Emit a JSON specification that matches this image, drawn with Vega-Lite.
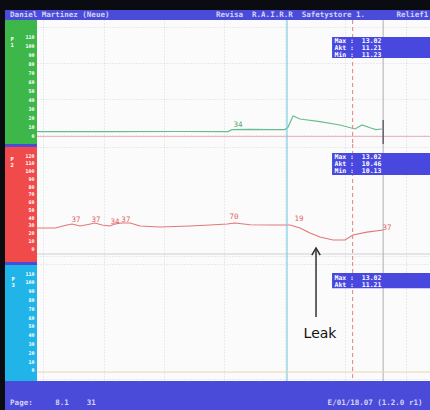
{
  "$schema": "https://vega.github.io/schema/vega-lite/v6.json",
  "background": "#0b0b12",
  "padding": {"left": 5, "top": 10, "right": 0, "bottom": 0},
  "columns": 2,
  "spacing": {"row": 0, "column": 0},
  "align": "each",
  "bounds": "flush",
  "config": {"view": {"stroke": null}, "font": "DejaVu Sans Mono"},
  "datasets": {
    "hdr": [
      {"side": "L", "txt": "Daniel Martinez (Neue)"},
      {"side": "R", "txt": "Revisa\u00a0\u00a0R.A.I.R.R\u00a0\u00a0Safetystore\u00a01.\u00a0\u00a0\u00a0\u00a0\u00a0\u00a0\u00a0Relief1"}
    ],
    "ftr": [
      {"side": "L", "txt": "Page:\u00a0\u00a0\u00a0\u00a0\u00a08.1\u00a0\u00a0\u00a0\u00a031"},
      {"side": "R", "txt": "E/01/18.07\u00a0(1.2.0\u00a0r1)"}
    ],
    "green": [
      {"t": -2, "v": 3.7}, {"t": 18.8, "v": 3.7}, {"t": 45.3, "v": 3.9}, {"t": 61.2, "v": 3.8},
      {"t": 62.5, "v": 6.0}, {"t": 68.5, "v": 6.3}, {"t": 75.1, "v": 6.0}, {"t": 80.0, "v": 6.0},
      {"t": 81.0, "v": 8.5}, {"t": 82.7, "v": 21.1}, {"t": 85.0, "v": 17.8}, {"t": 91.6, "v": 14.8},
      {"t": 98.2, "v": 11.1}, {"t": 103.2, "v": 6.7}, {"t": 105.5, "v": 11.1}, {"t": 108.2, "v": 8.0},
      {"t": 110.1, "v": 6.0}, {"t": 112.1, "v": 6.7}
    ],
    "red": [
      {"t": -2, "v": 25.8}, {"t": 4.0, "v": 25.8}, {"t": 7.9, "v": 29.7}, {"t": 9.6, "v": 31.0},
      {"t": 12.2, "v": 28.4}, {"t": 14.9, "v": 30.5}, {"t": 17.2, "v": 32.3}, {"t": 19.5, "v": 29.7},
      {"t": 22.1, "v": 28.4}, {"t": 23.8, "v": 31.0}, {"t": 26.1, "v": 32.3}, {"t": 28.8, "v": 32.3},
      {"t": 32.1, "v": 28.4}, {"t": 38.7, "v": 27.1}, {"t": 48.6, "v": 28.4}, {"t": 55.2, "v": 29.7},
      {"t": 60.9, "v": 31.0}, {"t": 63.5, "v": 32.3}, {"t": 68.5, "v": 30.0}, {"t": 75.1, "v": 29.7},
      {"t": 81.7, "v": 29.7}, {"t": 85.0, "v": 25.8}, {"t": 88.3, "v": 19.4}, {"t": 91.6, "v": 14.2},
      {"t": 95.9, "v": 10.3}, {"t": 99.9, "v": 10.3}, {"t": 102.5, "v": 16.8}, {"t": 107.1, "v": 20.6},
      {"t": 112.5, "v": 23.2}
    ],
    "glabels": [{"t": 64.5, "v": 11, "l": "34"}],
    "rlabels": [
      {"t": 10.9, "v": 36.8, "l": "37"}, {"t": 17.5, "v": 36.8, "l": "37"}, {"t": 23.8, "v": 34.0, "l": "34"},
      {"t": 27.4, "v": 36.8, "l": "37"}, {"t": 63.2, "v": 40.0, "l": "70"}, {"t": 84.7, "v": 37.4, "l": "19"},
      {"t": 113.8, "v": 25.8, "l": "37"}
    ],
    "cursors": [
      {"t": 80.7, "c": "A"}, {"t": 102.4, "c": "B"}, {"t": 112.5, "c": "C"}
    ],
    "boxes": [
      {"p": "g", "txt": "Max\u00a0:\u00a0\u00a013.02|Akt\u00a0:\u00a0\u00a011.21|Min\u00a0:\u00a0\u00a011.23"},
      {"p": "r", "txt": "Max\u00a0:\u00a0\u00a013.02|Akt\u00a0:\u00a0\u00a010.46|Min\u00a0:\u00a0\u00a010.13"},
      {"p": "c", "txt": "Max\u00a0:\u00a0\u00a013.02|Akt\u00a0:\u00a0\u00a011.21"}
    ],
    "leak": [{"t": 90.3, "txt": "Leak"}]
  },
  "concat": [
    {
      "width": 32, "height": 10, "view": {"fill": "#4b4bd9"},
      "data": {"values": [{}]}, "mark": {"type": "point", "opacity": 0}
    },
    {
      "width": 393, "height": 10, "view": {"fill": "#4b4bd9"},
      "data": {"name": "hdr"},
      "layer": [
        {
          "transform": [{"filter": "datum.side == 'L'"}],
          "mark": {"type": "text", "align": "left", "baseline": "middle", "color": "#d4d4f4", "fontSize": 7.5, "fontWeight": "bold"},
          "encoding": {
            "x": {"datum": -10.9, "type": "quantitative", "scale": {"domain": [-2, 128], "nice": false, "zero": false}, "axis": null},
            "y": {"datum": 0.5, "type": "quantitative", "scale": {"domain": [0, 1]}, "axis": null},
            "text": {"field": "txt"}
          }
        },
        {
          "transform": [{"filter": "datum.side == 'R'"}],
          "mark": {"type": "text", "align": "right", "baseline": "middle", "color": "#d4d4f4", "fontSize": 7.5, "fontWeight": "bold"},
          "encoding": {
            "x": {"datum": 127.4, "type": "quantitative"},
            "y": {"datum": 0.5, "type": "quantitative"},
            "text": {"field": "txt"}
          }
        }
      ]
    },
    {
      "width": 32, "height": 124, "view": {"fill": "#3db64a"},
      "data": {"values": [{}]},
      "mark": {"type": "point", "opacity": 0},
      "encoding": {
        "y": {"datum": 0, "type": "quantitative", "scale": {"domain": [-10, 127.8], "nice": false, "zero": false},
          "axis": {"orient": "left", "offset": -30, "domain": false, "ticks": false, "grid": false, "labelColor": "#ffffff", "labelFontSize": 5, "labelFontWeight": "bold", "labelPadding": 1, "labelOverlap": false, "labelFlush": false, "values": [0, 10, 20, 30, 40, 50, 60, 70, 80, 90, 100, 110], "title": ["P", "1"], "titleColor": "#ffffff", "titleFontSize": 5.5, "titleFontWeight": "bold", "titleAngle": 0, "titleX": -25, "titleY": 16, "titleAlign": "left", "titleBaseline": "top", "titleLineHeight": 6.5}}
      }
    },
    {
      "width": 393, "height": 124, "view": {"fill": "#fbfbfb"},
      "layer": [
        {
          "data": {"name": "green"},
          "mark": {"type": "line", "color": "#66bd90", "strokeWidth": 1.2},
          "encoding": {
            "x": {"field": "t", "type": "quantitative", "scale": {"domain": [-2, 128], "nice": false, "zero": false},
              "axis": {"grid": true, "labels": false, "ticks": false, "domain": false, "title": null, "values": [0, 10, 20, 30, 40, 50, 60, 70, 80, 90, 100, 110, 120], "gridColor": "#b4b8c8", "gridDash": [1, 2], "gridOpacity": 0.5}},
            "y": {"field": "v", "type": "quantitative", "scale": {"domain": [-10, 127.8], "nice": false, "zero": false},
              "axis": {"grid": true, "labels": false, "ticks": false, "domain": false, "title": null, "values": [0, 10, 20, 30, 40, 50, 60, 70, 80, 90, 100, 110, 120], "gridColor": "#b4b8c8", "gridDash": [1, 2], "gridOpacity": 0.5}}
          }
        },
        {
          "data": {"values": [{}]},
          "mark": {"type": "rule", "color": "#f0b4c0", "strokeWidth": 1},
          "encoding": {"y": {"datum": -1.7, "type": "quantitative"}}
        },
        {
          "data": {"name": "cursors"},
          "mark": {"type": "rule", "strokeWidth": 1.1},
          "encoding": {
            "x": {"field": "t", "type": "quantitative"},
            "color": {"field": "c", "type": "nominal", "scale": {"domain": ["A", "B", "C"], "range": ["#74cbe0", "#e68a8a", "#b4b4bc"]}, "legend": null},
            "strokeDash": {"field": "c", "type": "nominal", "scale": {"domain": ["A", "B", "C"], "range": [[1, 0], [4, 3], [1, 0]]}, "legend": null}
          }
        },
        {
          "data": {"name": "cursors"},
          "transform": [{"filter": "datum.c == 'C'"}],
          "mark": {"type": "rule", "color": "#4a4a52", "strokeWidth": 1.2},
          "encoding": {
            "x": {"field": "t", "type": "quantitative"},
            "y": {"datum": 16.7, "type": "quantitative"},
            "y2": {"datum": -10}
          }
        },
        {
          "data": {"name": "glabels"},
          "mark": {"type": "text", "color": "#4fa872", "fontSize": 7.5, "baseline": "middle"},
          "encoding": {
            "x": {"field": "t", "type": "quantitative"},
            "y": {"field": "v", "type": "quantitative"},
            "text": {"field": "l"}
          }
        },
        {
          "data": {"name": "boxes"},
          "transform": [{"filter": "datum.p == 'g'"}],
          "layer": [
            {
              "mark": {"type": "rect", "color": "#4848de"},
              "encoding": {
                "x": {"datum": 95.6, "type": "quantitative"}, "x2": {"datum": 128},
                "y": {"datum": 108.9, "type": "quantitative"}, "y2": {"datum": 85.6}
              }
            },
            {
              "mark": {"type": "text", "align": "left", "baseline": "top", "color": "#ffffff", "fontSize": 6.5, "fontWeight": "bold", "lineHeight": 7, "lineBreak": "|"},
              "encoding": {
                "x": {"datum": 96.4, "type": "quantitative"},
                "y": {"datum": 107.6, "type": "quantitative"},
                "text": {"field": "txt"}
              }
            }
          ]
        }
      ]
    },
    {
      "width": 32, "height": 118, "view": {"fill": "#f04a4a"},
      "data": {"values": [{}]},
      "mark": {"type": "rect", "color": "#4b4bd9"},
      "encoding": {
        "y": {"datum": 134.3, "type": "quantitative", "scale": {"domain": [-18, 134.3], "nice": false, "zero": false},
          "axis": {"orient": "left", "offset": -30, "domain": false, "ticks": false, "grid": false, "labelColor": "#ffffff", "labelFontSize": 5, "labelFontWeight": "bold", "labelPadding": 1, "labelOverlap": false, "labelFlush": false, "values": [0, 10, 20, 30, 40, 50, 60, 70, 80, 90, 100, 110, 120], "title": ["P", "2"], "titleColor": "#ffffff", "titleFontSize": 5.5, "titleFontWeight": "bold", "titleAngle": 0, "titleX": -25, "titleY": 12, "titleAlign": "left", "titleBaseline": "top", "titleLineHeight": 6.5}},
        "y2": {"datum": 130.6}
      }
    },
    {
      "width": 393, "height": 118, "view": {"fill": "#fbfbfb"},
      "layer": [
        {
          "data": {"name": "red"},
          "mark": {"type": "line", "color": "#e57676", "strokeWidth": 1.1},
          "encoding": {
            "x": {"field": "t", "type": "quantitative", "scale": {"domain": [-2, 128], "nice": false, "zero": false},
              "axis": {"grid": true, "labels": false, "ticks": false, "domain": false, "title": null, "values": [0, 10, 20, 30, 40, 50, 60, 70, 80, 90, 100, 110, 120], "gridColor": "#b4b8c8", "gridDash": [1, 2], "gridOpacity": 0.5}},
            "y": {"field": "v", "type": "quantitative", "scale": {"domain": [-18, 134.3], "nice": false, "zero": false},
              "axis": {"grid": true, "labels": false, "ticks": false, "domain": false, "title": null, "values": [-10, 0, 10, 20, 30, 40, 50, 60, 70, 80, 90, 100, 110, 120, 130], "gridColor": "#b4b8c8", "gridDash": [1, 2], "gridOpacity": 0.5}}
          }
        },
        {
          "data": {"values": [{}]},
          "mark": {"type": "rule", "color": "#cfcfd4", "strokeWidth": 1},
          "encoding": {"y": {"datum": -7.7, "type": "quantitative"}}
        },
        {
          "data": {"name": "cursors"},
          "mark": {"type": "rule", "strokeWidth": 1.1},
          "encoding": {
            "x": {"field": "t", "type": "quantitative"},
            "color": {"field": "c", "type": "nominal", "scale": {"domain": ["A", "B", "C"], "range": ["#74cbe0", "#e68a8a", "#a8a8b0"]}, "legend": null},
            "strokeDash": {"field": "c", "type": "nominal", "scale": {"domain": ["A", "B", "C"], "range": [[1, 0], [4, 3], [1, 0]]}, "legend": null}
          }
        },
        {
          "data": {"name": "rlabels"},
          "mark": {"type": "text", "color": "#e06464", "fontSize": 7.5, "baseline": "middle"},
          "encoding": {
            "x": {"field": "t", "type": "quantitative"},
            "y": {"field": "v", "type": "quantitative"},
            "text": {"field": "l"}
          }
        },
        {
          "data": {"name": "leak"},
          "layer": [
            {
              "mark": {"type": "rule", "color": "#333333", "strokeWidth": 1.5},
              "encoding": {
                "x": {"field": "t", "type": "quantitative"},
                "y": {"datum": 0, "type": "quantitative"},
                "y2": {"datum": -18}
              }
            },
            {
              "mark": {"type": "point", "shape": "M-0.6,1L0,0L0.6,1", "filled": false, "color": "#333333", "strokeWidth": 1.5, "size": 196, "opacity": 1},
              "encoding": {
                "x": {"field": "t", "type": "quantitative"},
                "y": {"datum": 0, "type": "quantitative"}
              }
            }
          ]
        },
        {
          "data": {"name": "boxes"},
          "transform": [{"filter": "datum.p == 'r'"}],
          "layer": [
            {
              "mark": {"type": "rect", "color": "#4848de"},
              "encoding": {
                "x": {"datum": 95.6, "type": "quantitative"}, "x2": {"datum": 128},
                "y": {"datum": 122.6, "type": "quantitative"}, "y2": {"datum": 94.2}
              }
            },
            {
              "mark": {"type": "text", "align": "left", "baseline": "top", "color": "#ffffff", "fontSize": 6.5, "fontWeight": "bold", "lineHeight": 7, "lineBreak": "|"},
              "encoding": {
                "x": {"datum": 96.4, "type": "quantitative"},
                "y": {"datum": 120.8, "type": "quantitative"},
                "text": {"field": "txt"}
              }
            }
          ]
        }
      ]
    },
    {
      "width": 32, "height": 119, "view": {"fill": "#20b4e8"},
      "data": {"values": [{}]},
      "mark": {"type": "rect", "color": "#4b4bd9"},
      "encoding": {
        "y": {"datum": 122.7, "type": "quantitative", "scale": {"domain": [-12.5, 122.7], "nice": false, "zero": false},
          "axis": {"orient": "left", "offset": -30, "domain": false, "ticks": false, "grid": false, "labelColor": "#ffffff", "labelFontSize": 5, "labelFontWeight": "bold", "labelPadding": 1, "labelOverlap": false, "labelFlush": false, "values": [0, 10, 20, 30, 40, 50, 60, 70, 80, 90, 100, 110], "title": ["P", "3"], "titleColor": "#ffffff", "titleFontSize": 5.5, "titleFontWeight": "bold", "titleAngle": 0, "titleX": -24, "titleY": 14, "titleAlign": "left", "titleBaseline": "top", "titleLineHeight": 6.5}},
        "y2": {"datum": 119.3}
      }
    },
    {
      "width": 393, "height": 119, "view": {"fill": "#fbfbfb"},
      "layer": [
        {
          "data": {"name": "cursors"},
          "mark": {"type": "rule", "strokeWidth": 1.1},
          "encoding": {
            "x": {"field": "t", "type": "quantitative", "scale": {"domain": [-2, 128], "nice": false, "zero": false},
              "axis": {"grid": true, "labels": false, "ticks": false, "domain": false, "title": null, "values": [0, 10, 20, 30, 40, 50, 60, 70, 80, 90, 100, 110, 120], "gridColor": "#b4b8c8", "gridDash": [1, 2], "gridOpacity": 0.5}},
            "color": {"field": "c", "type": "nominal", "scale": {"domain": ["A", "B", "C"], "range": ["#74cbe0", "#e68a8a", "#b4b4bc"]}, "legend": null},
            "strokeDash": {"field": "c", "type": "nominal", "scale": {"domain": ["A", "B", "C"], "range": [[1, 0], [4, 3], [1, 0]]}, "legend": null}
          }
        },
        {
          "data": {"values": [{}]},
          "mark": {"type": "rule", "color": "#e6d6ac", "strokeWidth": 1},
          "encoding": {"y": {"datum": -2.3, "type": "quantitative", "scale": {"domain": [-12.5, 122.7], "nice": false, "zero": false},
            "axis": {"grid": true, "labels": false, "ticks": false, "domain": false, "title": null, "values": [-10, 0, 10, 20, 30, 40, 50, 60, 70, 80, 90, 100, 110, 120], "gridColor": "#b4b8c8", "gridDash": [1, 2], "gridOpacity": 0.5}}}
        },
        {
          "data": {"name": "leak"},
          "layer": [
            {
              "mark": {"type": "rule", "color": "#333333", "strokeWidth": 1.5},
              "encoding": {
                "x": {"field": "t", "type": "quantitative"},
                "y": {"datum": 122.7, "type": "quantitative"},
                "y2": {"datum": 60.2}
              }
            },
            {
              "mark": {"type": "text", "font": "DejaVu Sans", "fontSize": 14, "color": "#111111", "align": "center", "baseline": "middle", "dx": 4},
              "encoding": {
                "x": {"field": "t", "type": "quantitative"},
                "y": {"datum": 40.9, "type": "quantitative"},
                "text": {"field": "txt"}
              }
            }
          ]
        },
        {
          "data": {"name": "boxes"},
          "transform": [{"filter": "datum.p == 'c'"}],
          "layer": [
            {
              "mark": {"type": "rect", "color": "#4848de"},
              "encoding": {
                "x": {"datum": 95.6, "type": "quantitative"}, "x2": {"datum": 128},
                "y": {"datum": 110.2, "type": "quantitative"}, "y2": {"datum": 93.0}
              }
            },
            {
              "mark": {"type": "text", "align": "left", "baseline": "top", "color": "#ffffff", "fontSize": 6.5, "fontWeight": "bold", "lineHeight": 7, "lineBreak": "|"},
              "encoding": {
                "x": {"datum": 96.4, "type": "quantitative"},
                "y": {"datum": 108.2, "type": "quantitative"},
                "text": {"field": "txt"}
              }
            }
          ]
        }
      ]
    },
    {
      "width": 32, "height": 29, "view": {"fill": "#4b4bd9"},
      "data": {"values": [{}]}, "mark": {"type": "point", "opacity": 0}
    },
    {
      "width": 393, "height": 29, "view": {"fill": "#4b4bd9"},
      "data": {"name": "ftr"},
      "layer": [
        {
          "transform": [{"filter": "datum.side == 'L'"}],
          "mark": {"type": "text", "align": "left", "baseline": "alphabetic", "color": "#d4d4f4", "fontSize": 7.5, "fontWeight": "bold"},
          "encoding": {
            "x": {"datum": -10.9, "type": "quantitative", "scale": {"domain": [-2, 128], "nice": false, "zero": false}, "axis": null},
            "y": {"datum": 0.16, "type": "quantitative", "scale": {"domain": [0, 1]}, "axis": null},
            "text": {"field": "txt"}
          }
        },
        {
          "transform": [{"filter": "datum.side == 'R'"}],
          "mark": {"type": "text", "align": "right", "baseline": "alphabetic", "color": "#d4d4f4", "fontSize": 7.5, "fontWeight": "bold"},
          "encoding": {
            "x": {"datum": 125.5, "type": "quantitative"},
            "y": {"datum": 0.16, "type": "quantitative"},
            "text": {"field": "txt"}
          }
        }
      ]
    }
  ]
}
